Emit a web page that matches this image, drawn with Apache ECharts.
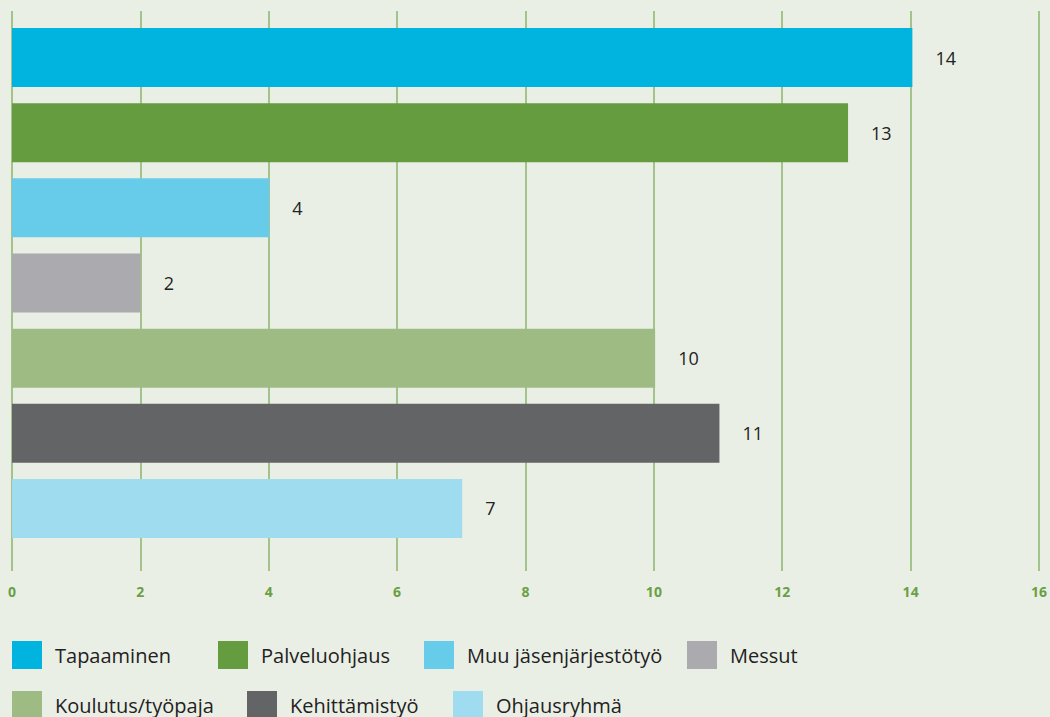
<!DOCTYPE html>
<html>
<head>
<meta charset="utf-8">
<script src="https://cdn.jsdelivr.net/npm/echarts@6/dist/echarts.min.js"></script>
<style>
  html, body { margin: 0; padding: 0; background: #eaefe5; }
  #chart { width: 1050px; height: 717px; }
</style>
</head>
<body>
<div id="chart"></div>
<script>
var categories = ['Tapaaminen', 'Palveluohjaus', 'Muu jäsenjärjestötyö', 'Messut', 'Koulutus/työpaja', 'Kehittämistyö', 'Ohjausryhmä'];
var values = [14, 13, 4, 2, 10, 11, 7];
var colors = ['#00b4df', '#659c3f', '#67cbea', '#aaaaaf', '#9fbb84', '#636466', '#a0dcef'];
var xTicks = { min: 0, max: 16, interval: 2 };

var chart = echarts.init(document.getElementById('chart'), null, { renderer: 'svg' });

// one series per category so each gets its own legend entry
var series = categories.map(function(name, i) {
  var data = categories.map(function(c, j) { return j === i ? values[i] : null; });
  return {
    name: name,
    type: 'bar',
    stack: 'all',
    xAxisIndex: 1,
    yAxisIndex: 1,
    barWidth: 59,
    itemStyle: { color: colors[i] },
    label: {
      show: true, position: 'right', distance: 23,
      color: '#222', fontSize: 18, fontFamily: 'Open Sans'
    },
    data: data
  };
});

// legend laid out as in the original: two rows, items placed by hand
var legendSpots = [[12, 641], [218, 641], [424, 641], [687, 641], [12, 691], [247, 691], [453, 691]];
var legends = categories.map(function(name, i) {
  return {
    data: [name], left: legendSpots[i][0], top: legendSpots[i][1], padding: 0,
    itemWidth: 30, itemHeight: 28, icon: 'rect',
    textStyle: { color: '#222', fontSize: 20, fontFamily: 'Open Sans', padding: [0, 0, 0, 8] }
  };
});

chart.setOption({
  animation: false,
  backgroundColor: '#eaefe5',
  grid: [
    { left: 12, right: 9, top: 11, bottom: 146 },
    { left: 12, right: 9, top: 20, height: 526 }
  ],
  xAxis: [
    {
      gridIndex: 0, type: 'value', min: xTicks.min, max: xTicks.max, interval: xTicks.interval,
      axisLine: { show: false }, axisTick: { show: false },
      splitLine: { lineStyle: { color: '#8db46b', width: 1.5 } },
      axisLabel: { color: '#6a9f45', fontWeight: 'bold', fontSize: 14, fontFamily: 'Open Sans', margin: 13 }
    },
    {
      gridIndex: 1, type: 'value', min: xTicks.min, max: xTicks.max, show: false
    }
  ],
  yAxis: [
    { gridIndex: 0, type: 'category', data: categories, show: false },
    { gridIndex: 1, type: 'category', data: categories, inverse: true, show: false }
  ],
  legend: legends,
  series: series
});
window.addEventListener('resize', function() { chart.resize(); });
</script>
</body>
</html>
